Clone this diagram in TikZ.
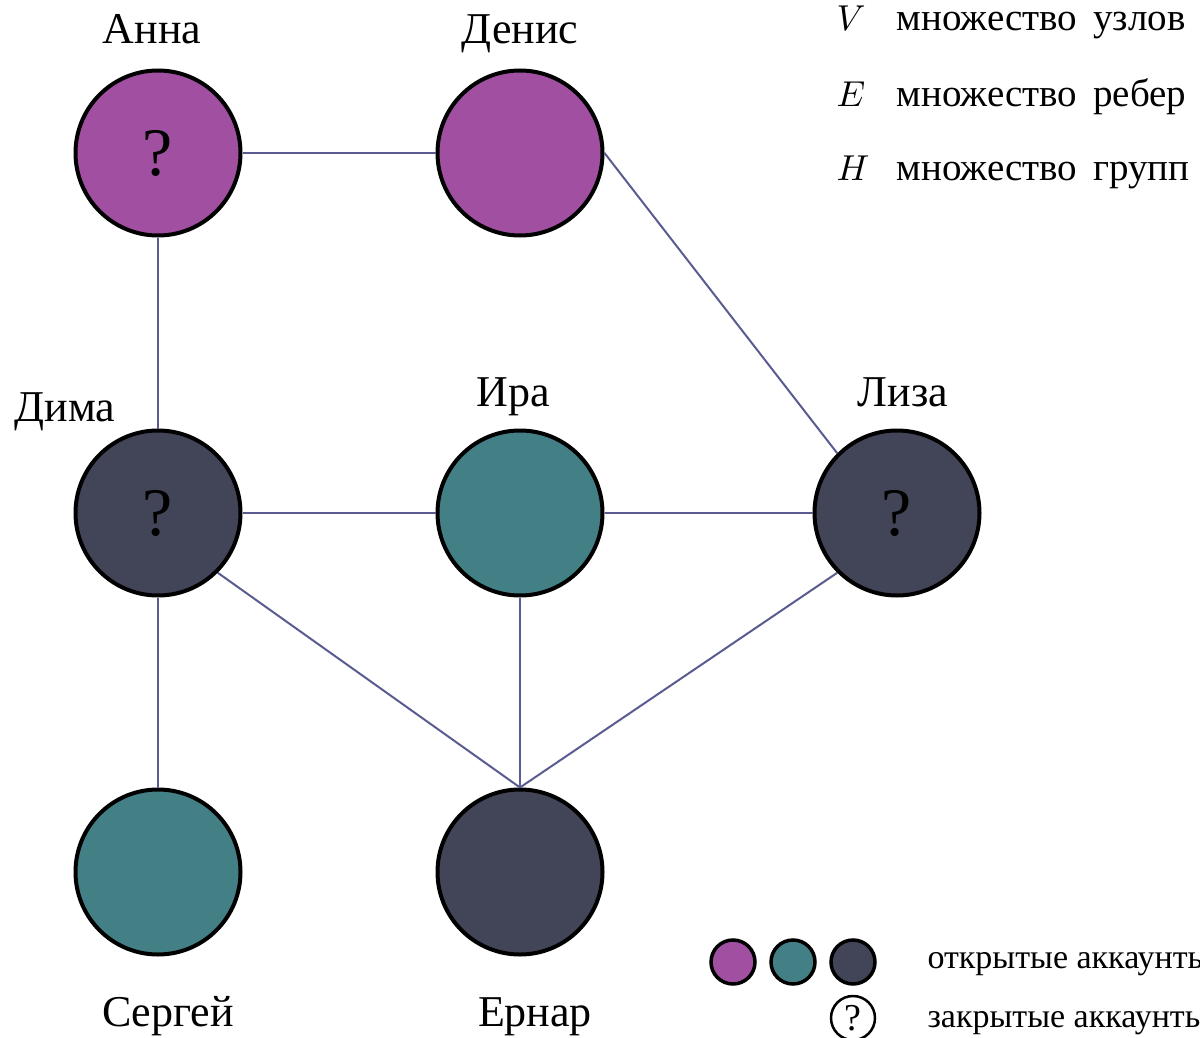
\documentclass[tikz,border=0pt]{standalone}
\usepackage{graphicx}
\usepackage{fontspec}
\setmainfont{Liberation Serif}
\usetikzlibrary{calc}
\definecolor{NodePurple}{HTML}{A14FA1}
\definecolor{NodeTeal}{HTML}{438086}
\definecolor{NodeSlate}{HTML}{424457}
\definecolor{EdgeBlue}{HTML}{5A5C91}
\tikzset{
  person/.style={circle, draw=black, line width=4pt, minimum size=165pt,
                 inner sep=0pt, font=\fontsize{68}{72}\selectfont},
  tie/.style={draw=EdgeBlue, line width=2pt},
  who/.style={anchor=base, font=\fontsize{44}{48}\selectfont},
  legendtxt/.style={anchor=base west, font=\fontsize{39}{42}\selectfont},
  setsym/.style={anchor=base west, font=\normalsize},
  dot/.style={circle, draw=black, line width=3.5pt, minimum size=44pt, inner sep=0pt}
}
\begin{document}
\begin{tikzpicture}[x=1pt, y=-1pt]
\useasboundingbox (0,0) rectangle (1200,1038);
\clip (0,0) rectangle (1200,1038);

% accounts
\node[person, fill=NodePurple] (anna)   at (158,153) {?};
\node[person, fill=NodePurple] (denis)  at (520,153) {};
\node[person, fill=NodeSlate]  (dima)   at (158,513) {?};
\node[person, fill=NodeTeal]   (ira)    at (520,513) {};
\node[person, fill=NodeSlate]  (liza)   at (897,513) {?};
\node[person, fill=NodeTeal]   (sergey) at (158,872) {};
\node[person, fill=NodeSlate]  (ernar)  at (520,872) {};

% names
\node[who] (anna-name)   at (152,44)   {Анна};
\node[who] (denis-name)  at (520,44)   {Денис};
\node[who] (dima-name)   at (65,421)   {Дима};
\node[who] (ira-name)    at (513,406)  {Ира};
\node[who] (liza-name)   at (903,406)  {Лиза};
\node[who] (sergey-name) at (168,1026) {Сергей};
\node[who] (ernar-name)  at (535,1026) {Ернар};

% friendships
\draw[tie] (anna.east) -- (denis.west);
\draw[tie] (anna.south) -- (dima.north);
\draw[tie] (denis.east) -- (liza.north west);
\draw[tie] (dima.east) -- (ira.west);
\draw[tie] (ira.east) -- (liza.west);
\draw[tie] (dima.south) -- (sergey.north);
\draw[tie] (dima.south east) -- (ernar.north);
\draw[tie] (ira.south) -- (ernar.north);
\draw[tie] (liza.south west) -- (ernar.north);

% sets
\node[setsym] (set-v) at (833,31)  {\scalebox{3.6}{$V$}};
\node[setsym] (set-e) at (833,107) {\scalebox{3.6}{$E$}};
\node[setsym] (set-h) at (833,181) {\scalebox{3.6}{$H$}};
\node[legendtxt] (set-v-txt) at (893,31)  {множество\hspace{16pt}узлов};
\node[legendtxt] (set-e-txt) at (893,107) {множество\hspace{16pt}ребер};
\node[legendtxt] (set-h-txt) at (893,181) {множество\hspace{16pt}групп};

% account kinds
\node[dot, fill=NodePurple] (open-a) at (733,962) {};
\node[dot, fill=NodeTeal]   (open-b) at (793,962) {};
\node[dot, fill=NodeSlate]  (open-c) at (853,962) {};
\node[dot, line width=2.5pt, font=\fontsize{38}{40}\selectfont] (closed) at (853,1018) {?};
\node[legendtxt, font=\fontsize{34}{38}\selectfont] (open-txt)   at (924,968)  {открытые аккаунты};
\node[legendtxt, font=\fontsize{34}{38}\selectfont] (closed-txt) at (924,1027) {закрытые аккаунты};
\end{tikzpicture}
\end{document}
